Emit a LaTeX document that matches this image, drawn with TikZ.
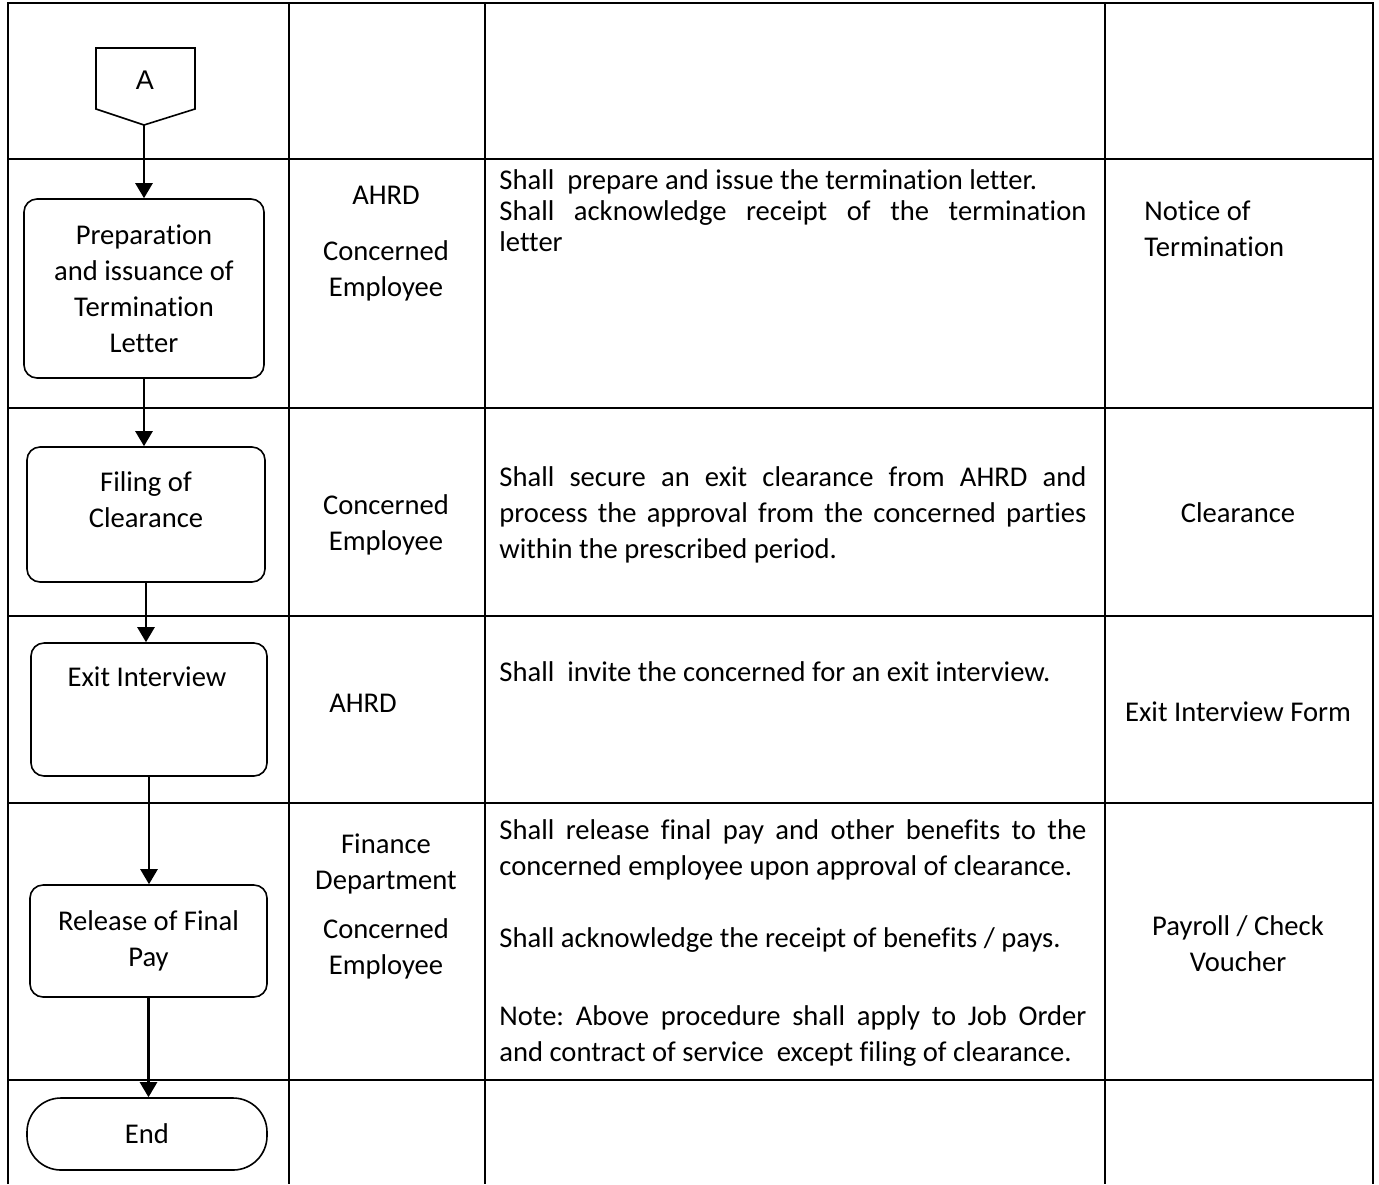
\documentclass[tikz,border=0pt]{standalone}
\usepackage{fontspec}
\setmainfont{Carlito}[Ligatures=NoCommon]
\newfontfamily\connfont{Liberation Sans}
\usetikzlibrary{arrows.meta}
\frenchspacing

\begin{document}
\begin{tikzpicture}[x=0.5pt,y=0.5pt,yscale=-1,xscale=1,
  tablerule/.style={line width=1pt},
  stepbox/.style={draw, line width=0.8pt, rounded corners=6.5pt, inner sep=0pt, align=center, font=\fontsize{14.3}{18}\selectfont},
  celltext/.style={inner sep=0pt, align=center, font=\fontsize{14.3}{18}\selectfont},
  dutytext/.style={anchor=north west, inner sep=0pt, text width=293.5pt, align=justify, font=\fontsize{14.3}{18}\selectfont},
  flow/.style={line width=1.25pt, -{Triangle[length=7.5pt,width=8.5pt]}}
]
\useasboundingbox (0,0) rectangle (1379,1184);

% Table frame
\draw [tablerule] (8,1184) -- (8,3) -- (1373,3) -- (1373,1184);
% Column rules
\draw [tablerule] (289,3) -- (289,1184);
\draw [tablerule] (485,3) -- (485,1184);
\draw [tablerule] (1105,3) -- (1105,1184);
% Row rules
\draw [tablerule] (8,159) -- (1373,159);
\draw [tablerule] (8,408) -- (1373,408);
\draw [tablerule] (8,616) -- (1373,616);
\draw [tablerule] (8,803) -- (1373,803);
\draw [tablerule] (8,1080) -- (1373,1080);

% Off-page connector
\draw [line width=0.8pt] (96,48) -- (195,48) -- (195,109) -- (144,125) -- (96,109) -- cycle;
\node [inner sep=0pt, font=\connfont\fontsize{13.5}{16}\selectfont] (conn) at (145,80) {A};
\coordinate (conntip) at (144,125);

% Process boxes
\node [stepbox, minimum width=120pt, minimum height=89.5pt] (prep) at (144,288.5) {Preparation\\and issuance of\\Termination\\Letter};
\node [stepbox, minimum width=119pt, minimum height=67.5pt] (filing) at (146,514.5) {};
\node [celltext, anchor=north] (filingtext) at (146,471) {Filing of\\Clearance};
\node [stepbox, minimum width=118pt, minimum height=66.5pt] (exit) at (149,709.5) {};
\node [celltext] (exittext) at (147,677) {Exit Interview};
\node [stepbox, minimum width=118.5pt, minimum height=56pt] (release) at (148.5,941) {Release of Final\\Pay};
\node [stepbox, rounded corners=17pt, minimum width=120pt, minimum height=36pt] (end) at (147,1134) {End};

% Flow arrows
\draw [flow] (conntip) -- (prep.north);
\draw [flow] (prep.south) -- (prep.south |- filing.north);
\draw [flow] (filing.south) -- (filing.south |- exit.north);
\draw [flow] (exit.south) -- (exit.south |- release.north);
\draw [flow] (release.south) -- (release.south |- end.north);

% Responsible units
\node [celltext] (ahrdone) at (386,195) {AHRD};
\node [celltext, anchor=north] (empone) at (386,240) {Concerned\\Employee};
\node [celltext, anchor=north] (emptwo) at (386,494) {Concerned\\Employee};
\node [celltext] (ahrdtwo) at (363,703) {AHRD};
\node [celltext, anchor=north] (finance) at (386,833) {Finance\\Department};
\node [celltext, anchor=north] (empthree) at (386,918) {Concerned\\Employee};

% Duties
\node [dutytext, font=\fontsize{14.3}{15.5}\selectfont] (dutyone) at (499,169) {Shall\ \ prepare and issue the termination letter.\par Shall acknowledge receipt of the termination\linebreak letter};
\node [dutytext] (dutytwo) at (499,466) {Shall secure an exit clearance from AHRD and\linebreak process the approval from the concerned parties\linebreak within the prescribed period.};
\node [dutytext] (dutythree) at (499,661) {Shall\ \ invite the concerned for an exit interview.};
\node [dutytext] (dutyfour) at (499,819) {Shall release final pay and other benefits to the\linebreak concerned employee upon approval of clearance.};
\node [dutytext] (dutyfive) at (499,927) {Shall acknowledge the receipt of benefits / pays.};
\node [dutytext] (dutysix) at (499,1005) {Note: Above procedure shall apply to Job Order\linebreak and contract of service\ \ except filing of clearance.};

% Forms
\node [celltext, anchor=north west, align=left] (notice) at (1144,200) {Notice of\\Termination};
\node [celltext] (clearance) at (1238,513) {Clearance};
\node [celltext] (exitform) at (1238,711.5) {Exit Interview Form};
\node [celltext, anchor=north] (payroll) at (1238,915) {Payroll / Check\\Voucher};
\end{tikzpicture}
\end{document}
